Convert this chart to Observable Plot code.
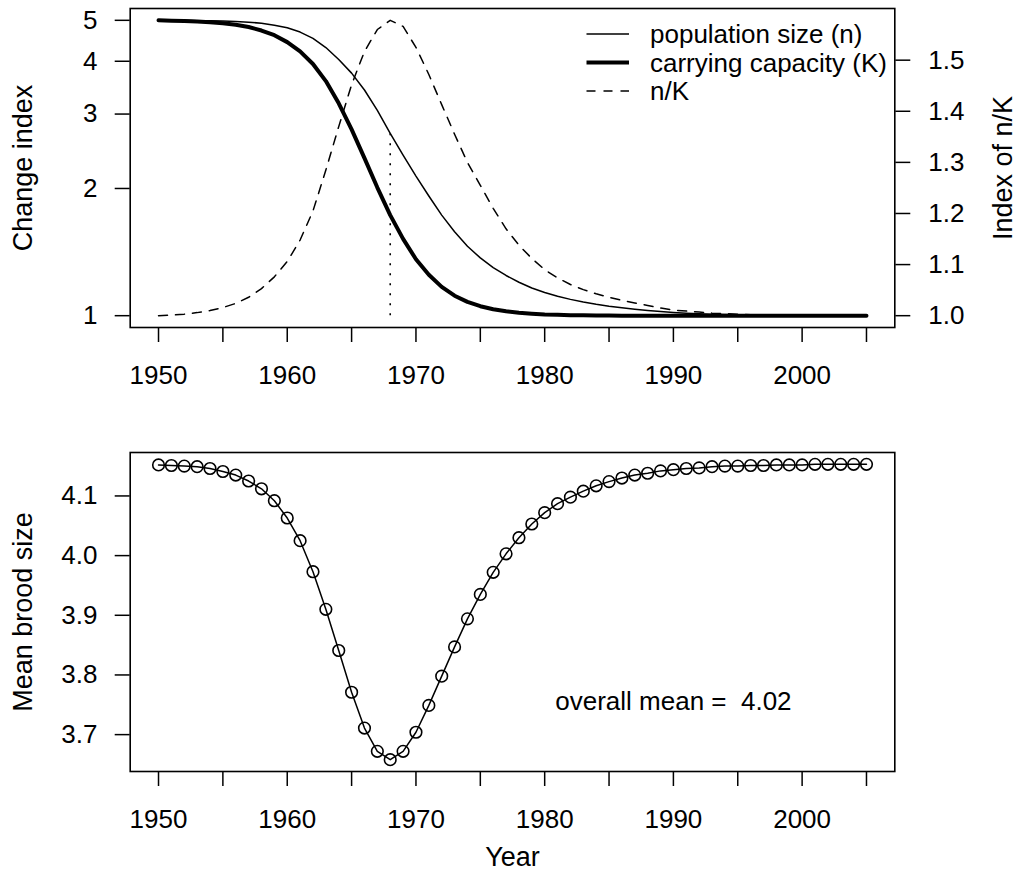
<!DOCTYPE html>
<html>
<head>
<meta charset="utf-8">
<script src="https://cdn.jsdelivr.net/npm/d3@7"></script>
<script src="https://cdn.jsdelivr.net/npm/@observablehq/plot@0.6"></script>
<style>
  body { margin: 0; background: #fff; }
  #wrap { position: relative; width: 1023px; height: 877px; overflow: hidden; background: #fff; }
  #wrap > svg { position: absolute; left: 0; }
</style>
</head>
<body>
<div id="wrap"></div>
<script>
// ---------------- data ----------------
const years = [1950,1951,1952,1953,1954,1955,1956,1957,1958,1959,
               1960,1961,1962,1963,1964,1965,1966,1967,1968,1969,
               1970,1971,1972,1973,1974,1975,1976,1977,1978,1979,
               1980,1981,1982,1983,1984,1985,1986,1987,1988,1989,
               1990,1991,1992,1993,1994,1995,1996,1997,1998,1999,
               2000,2001,2002,2003,2004,2005];

const popSize = [5.00,5.00,5.00,4.99,4.99,4.98,4.97,4.95,4.92,4.87,
                 4.80,4.69,4.53,4.31,4.04,3.75,3.42,3.06,2.70,2.40,
                 2.14,1.92,1.73,1.58,1.46,1.37,1.30,1.245,1.20,1.163,
                 1.135,1.112,1.093,1.077,1.064,1.053,1.044,1.036,1.029,1.023,
                 1.018,1.014,1.011,1.008,1.006,1.005,1.004,1.003,1.002,1.002,
                 1.001,1.001,1.000,1.000,1.000,1.000];

const carryCap = [5.00,4.99,4.98,4.97,4.95,4.92,4.88,4.82,4.73,4.61,
                  4.44,4.22,3.94,3.59,3.18,2.76,2.36,2.01,1.73,1.52,
                  1.36,1.25,1.17,1.115,1.078,1.053,1.036,1.024,1.016,1.011,
                  1.007,1.005,1.003,1.002,1.001,1.001,1.000,1.000,1.000,1.000,
                  1.000,1.000,1.000,1.000,1.000,1.000,1.000,1.000,1.000,1.000,
                  1.000,1.000,1.000,1.000,1.000,1.000];

const ratioNK = [1.000,1.001,1.003,1.006,1.010,1.016,1.024,1.036,1.053,1.076,
                 1.106,1.148,1.205,1.285,1.370,1.452,1.517,1.560,1.578,1.566,
                 1.525,1.472,1.413,1.355,1.300,1.255,1.210,1.170,1.138,1.112,
                 1.090,1.074,1.061,1.051,1.043,1.036,1.030,1.025,1.020,1.015,
                 1.011,1.009,1.007,1.005,1.004,1.003,1.002,1.002,1.001,1.001,
                 1.000,1.000,1.000,1.000,1.000,1.000];

const broodSize = [4.152,4.151,4.150,4.149,4.146,4.141,4.135,4.125,4.112,4.092,
                   4.063,4.025,3.973,3.910,3.841,3.771,3.711,3.672,3.658,3.672,
                   3.704,3.749,3.798,3.847,3.894,3.935,3.972,4.003,4.030,4.053,
                   4.072,4.087,4.098,4.108,4.117,4.124,4.130,4.135,4.138,4.142,
                   4.144,4.146,4.147,4.149,4.150,4.150,4.151,4.151,4.152,4.152,
                   4.152,4.153,4.153,4.153,4.153,4.153];

const xTicks = [1950,1955,1960,1965,1970,1975,1980,1985,1990,1995,2000,2005];
const xTickLabels = ["1950","","1960","","1970","","1980","","1990","","2000",""];
const changeTicks = [1,2,3,4,5];
const ratioTicks = [1.0,1.1,1.2,1.3,1.4,1.5];
const broodTicks = [3.7,3.8,3.9,4.0,4.1];

const legendLabels = ["population size (n)","carrying capacity (K)","n/K"];
const titleTopLeft = "Change index";
const titleTopRight = "Index of n/K";
const titleBottomLeft = "Mean brood size";
const titleBottomX = "Year";
const meanNote = [{year: 1990, value: 3.755, label: "overall mean = \u00a04.02"}];

// ---------------- layout ----------------
const W = 1023;
const FONT = '"Liberation Sans", Arial, Helvetica, sans-serif';
const FS = 26;
const FT = 27;
const mL = 129.7, mR = 128.7;
const pad4 = ([a, b]) => [a - (b - a) * 0.04, b + (b - a) * 0.04];

const rows = years.map((year, i) => ({
  year, n: popSize[i], K: carryCap[i], r: ratioNK[i], b: broodSize[i]
}));
const peak = d3.greatest(rows, d => d.r);
const xDom = pad4(d3.extent(years));
const fmtX = d => xTickLabels[xTicks.indexOf(d)];
const baseStyle = {fontFamily: FONT, fontSize: FS + "px", background: "transparent", color: "black", overflow: "visible"};
const axisCommon = {tickSize: 15, strokeWidth: 1.5, label: null, fontSize: FS};

const wrap = document.getElementById("wrap");

// ---------- top panel ----------
const topH = 420, topMT = 8, topMB = 93;
const logDom = pad4(d3.extent([...popSize, ...carryCap]).map(Math.log)).map(Math.exp);

const topPlot = Plot.plot({
  width: W, height: topH,
  marginLeft: mL, marginRight: mR, marginTop: topMT, marginBottom: topMB,
  style: baseStyle,
  x: {domain: xDom},
  y: {type: "log", domain: logDom},
  marks: [
    Plot.frame({stroke: "black", strokeWidth: 1.6}),
    Plot.axisX({...axisCommon, ticks: xTicks, tickFormat: fmtX, tickPadding: 23.5}),
    Plot.axisY({...axisCommon, ticks: changeTicks, tickFormat: d => String(d), tickPadding: 17.7}),
    Plot.ruleX([peak], {x: "year", y1: () => d3.min(carryCap), y2: "n", stroke: "black", strokeWidth: 1.6, strokeDasharray: "2,8"}),
    Plot.line(rows, {x: "year", y: "n", stroke: "black", strokeWidth: 1.5}),
    Plot.line(rows, {x: "year", y: "K", stroke: "black", strokeWidth: 4, strokeLinecap: "round"}),
    Plot.text([titleTopLeft], {frameAnchor: "left", textAnchor: "middle", rotate: -90, dx: 23 - mL, fontSize: FT})
  ]
});
topPlot.style.top = "0px";
wrap.appendChild(topPlot);

const ratioPlot = Plot.plot({
  width: W, height: topH,
  marginLeft: mL, marginRight: mR, marginTop: topMT, marginBottom: topMB,
  style: baseStyle,
  x: {domain: xDom, axis: null},
  y: {domain: pad4(d3.extent(ratioNK))},
  marks: [
    Plot.axisY({...axisCommon, anchor: "right", ticks: ratioTicks, tickFormat: d => d.toFixed(1), tickPadding: 18.4}),
    Plot.line(rows, {x: "year", y: "r", stroke: "black", strokeWidth: 1.5, strokeDasharray: "9,8"}),
    Plot.text([titleTopRight], {frameAnchor: "right", textAnchor: "middle", rotate: -90, dx: 1002.5 - (W - mR), fontSize: FT})
  ]
});
ratioPlot.style.top = "0px";
ratioPlot.style.pointerEvents = "none";
wrap.appendChild(ratioPlot);

// legend (line samples + labels)
const legendStyles = [
  {width: 1.5, dash: null},
  {width: 4, dash: null},
  {width: 1.5, dash: "9,8"}
];
const leg = d3.create("svg")
  .attr("width", 330).attr("height", 110)
  .style("position", "absolute").style("left", "580px").style("top", "0px")
  .style("font-family", FONT).style("font-size", FS + "px");
legendLabels.forEach((lab, i) => {
  const cy = 34 + i * 28.5;
  const st = legendStyles[i];
  leg.append("line").attr("x1", 6.5).attr("x2", 49).attr("y1", cy).attr("y2", cy)
    .attr("stroke", "black").attr("stroke-width", st.width)
    .attr("stroke-dasharray", st.dash);
  leg.append("text").attr("x", 70).attr("y", cy).attr("dy", "0.35em").attr("fill", "black").text(lab);
});
wrap.appendChild(leg.node());

// ---------- bottom panel ----------
const botTop = 420, botH = 457, botMT = 32, botMB = 106;
const botPlot = Plot.plot({
  width: W, height: botH,
  marginLeft: mL, marginRight: mR, marginTop: botMT, marginBottom: botMB,
  style: baseStyle,
  x: {domain: xDom},
  y: {domain: pad4(d3.extent(broodSize))},
  marks: [
    Plot.frame({stroke: "black", strokeWidth: 1.6}),
    Plot.axisX({...axisCommon, ticks: xTicks, tickFormat: fmtX, tickPadding: 23.5}),
    Plot.axisY({...axisCommon, ticks: broodTicks, tickFormat: d => d.toFixed(1), tickPadding: 17.7}),
    Plot.line(rows, {x: "year", y: "b", stroke: "black", strokeWidth: 1.5}),
    Plot.dot(rows, {x: "year", y: "b", r: 5.8, stroke: "black", strokeWidth: 1.6, fill: "none"}),
    Plot.text(meanNote, {x: "year", y: "value", text: "label", fontSize: FS}),
    Plot.text([titleBottomLeft], {frameAnchor: "left", textAnchor: "middle", rotate: -90, dx: 23 - mL, fontSize: FT}),
    Plot.text([titleBottomX], {frameAnchor: "bottom", dy: 94, fontSize: FT})
  ]
});
botPlot.style.top = botTop + "px";
wrap.appendChild(botPlot);
</script>
</body>
</html>
